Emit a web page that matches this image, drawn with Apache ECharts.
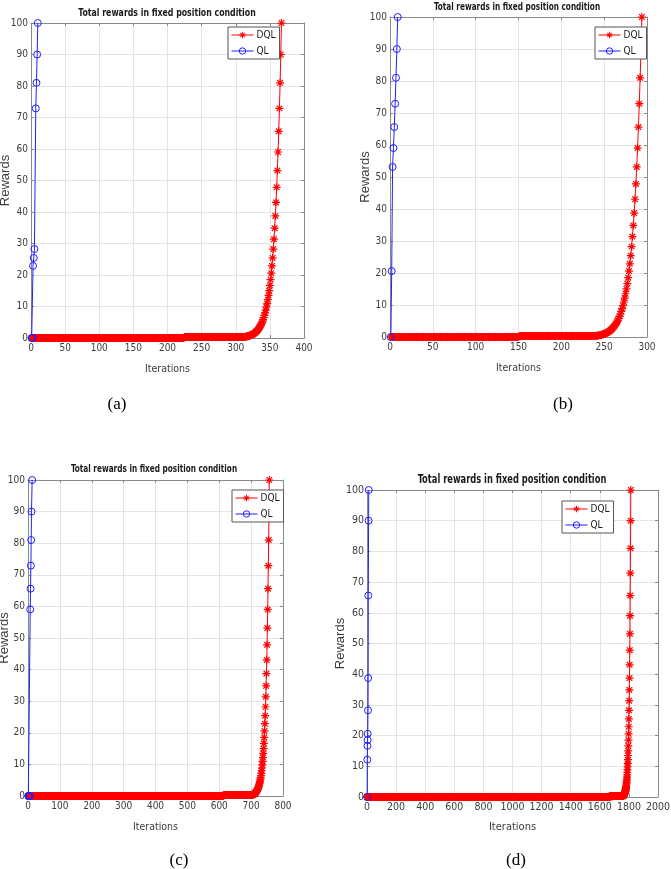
<!DOCTYPE html>
<html>
<head>
<meta charset="utf-8">
<script src="https://cdn.jsdelivr.net/npm/echarts@6/dist/echarts.min.js"></script>
<style>
  html, body { margin: 0; padding: 0; background: #fff; }
  #main { width: 671px; height: 869px; }
</style>
</head>
<body>
<div id="main"></div>
<script>
// y ticks shared by the four plots
const yTicks = [0, 10, 20, 30, 40, 50, 60, 70, 80, 90, 100]

// last part of the DQL curve (same shape in all four)
const dqlRise = [0.31, 0.34, 0.38, 0.42, 0.46, 0.52, 0.57, 0.64, 0.71, 0.79,
  0.87, 0.97, 1.08, 1.2, 1.33, 1.48, 1.64, 1.82, 2.03, 2.25,
  2.5, 2.78, 3.09, 3.43, 3.82, 4.24, 4.71, 5.23, 5.81, 6.46,
  7.18, 7.98, 8.86, 9.85, 10.94, 12.16, 13.51, 15.01, 16.68, 18.53,
  20.59, 22.88, 25.42, 28.24, 31.38, 34.87, 38.74, 43.05, 47.83, 53.14,
  59.05, 65.61, 72.9, 81, 90, 100]

// (a)
const xTicksA = [0, 50, 100, 150, 200, 250, 300, 350, 400]
const dqlEndA = 367
const dqlFlatA = [[1, 224, 0], [225, 311, 0.3]] // from, to, value
const qlItersA = [1, 2, 3, 4, 5, 7, 8, 9, 10]
const qlValsA = [0, 0, 22.88, 25.42, 28.24, 72.9, 81, 90, 100]

// (b)
const xTicksB = [0, 50, 100, 150, 200, 250, 300]
const dqlEndB = 294
const dqlFlatB = [[1, 150, 0], [151, 238, 0.3]]
const qlItersB = [1, 2, 3, 4, 5, 6, 7, 8, 9]
const qlValsB = [0, 20.59, 53.14, 59.05, 65.61, 72.9, 81, 90, 100]

// (c)
const xTicksC = [0, 100, 200, 300, 400, 500, 600, 700, 800]
const dqlEndC = 757
const dqlFlatC = [[1, 612, 0], [613, 701, 0.3]]
const qlItersC = [1, 2, 3, 4, 5, 7, 8, 9, 10, 11, 13]
const qlValsC = [0, 0, 0, 0, 0, 59.05, 65.61, 72.9, 81, 90, 100]

// (d)
const xTicksD = [0, 200, 400, 600, 800, 1000, 1200, 1400, 1600, 1800, 2000]
const dqlEndD = 1813
const dqlFlatD = [[1, 1670, 0], [1671, 1757, 0.3]]
const qlItersD = [1, 2, 3, 4, 5, 7, 8, 9, 11, 12]
const qlValsD = [0, 12.16, 16.68, 18.53, 20.59, 28.24, 38.74, 65.61, 90, 100]

const titleText = 'Total rewards in fixed position condition'
const narrow = "'DejaVu Sans Condensed', 'Liberation Sans', sans-serif"
const axisGray = '#8a8a8a'
const textGray = '#3c3c3c'
// asterisk marker (matlab '*')
const star = 'path://M8.5,0L11.5,0L11.5,20L8.5,20Z M0,8.5L20,8.5L20,11.5L0,11.5Z ' +
  'M4,1.9L18.1,16L16,18.1L1.9,4Z M16,1.9L18.1,4L4,18.1L1.9,16Z'

const panels = [
  { grid: { left: 31, top: 23, width: 273, height: 315 }, xTicks: xTicksA, end: dqlEndA, flat: dqlFlatA,
    qlIters: qlItersA, qlVals: qlValsA, titleX: 167, titleY: 13, titleSize: 11, titleScale: 0.79,
    legend: { left: 228, top: 27 }, caption: '(a)', capX: 117, capY: 396, font: 10, yGap: 19.5, xGap: 26 },
  { grid: { left: 390, top: 17, width: 257, height: 320 }, xTicks: xTicksB, end: dqlEndB, flat: dqlFlatB,
    qlIters: qlItersB, qlVals: qlValsB, titleX: 517, titleY: 7, titleSize: 11, titleScale: 0.74,
    legend: { left: 595, top: 27 }, caption: '(b)', capX: 563, capY: 396, font: 10, yGap: 18.5, xGap: 26 },
  { grid: { left: 28, top: 480, width: 255, height: 316 }, xTicks: xTicksC, end: dqlEndC, flat: dqlFlatC,
    qlIters: qlItersC, qlVals: qlValsC, titleX: 154, titleY: 469, titleSize: 11, titleScale: 0.74,
    legend: { left: 232, top: 490 }, caption: '(c)', capX: 179, capY: 852, font: 10, yGap: 17, xGap: 26 },
  { grid: { left: 367, top: 490, width: 291, height: 307 }, xTicks: xTicksD, end: dqlEndD, flat: dqlFlatD,
    qlIters: qlItersD, qlVals: qlValsD, titleX: 512, titleY: 480, titleSize: 12, titleScale: 0.77,
    legend: { left: 562, top: 501 }, caption: '(d)', capX: 516, capY: 852, font: 10.5, yGap: 20.5, xGap: 25 }
]

let option = { animation: false, backgroundColor: '#fff', title: [], legend: [], grid: [], xAxis: [], yAxis: [], series: [], graphic: [] }

panels.forEach((p, i) => {
  const xMin = p.xTicks[0]
  const xMax = p.xTicks[p.xTicks.length - 1]
  const xStep = p.xTicks[1] - p.xTicks[0]
  const g = p.grid

  // DQL points: flat runs then the rising tail
  let dql = []
  p.flat.forEach(r => {
    for (let k = r[0]; k <= r[1]; k++) dql.push([k, r[2]])
  })
  const start = p.end - dqlRise.length + 1
  dqlRise.forEach((v, k) => dql.push([start + k, v]))
  const ql = p.qlIters.map((it, k) => [it, p.qlVals[k]])

  option.grid.push(Object.assign({ outerBoundsMode: 'none', containLabel: false }, g))
  // plot title, squeezed a bit like the original
  option.graphic.push({
    type: 'text', x: p.titleX, y: p.titleY, scaleX: p.titleScale, z: 10,
    style: {
      text: titleText, align: 'center', verticalAlign: 'middle', fill: '#1a1a1a',
      font: 'bold ' + p.titleSize + "px 'DejaVu Sans Condensed', 'Liberation Sans', sans-serif"
    }
  })
  option.title.push({
    text: p.caption, left: p.capX, top: p.capY, textAlign: 'center', padding: 0,
    textStyle: { fontFamily: "'Liberation Serif', serif", fontSize: 17, fontWeight: 'normal', color: '#000' }
  })
  option.legend.push({
    orient: 'vertical', left: p.legend.left, top: p.legend.top, data: ['DQL', 'QL'],
    backgroundColor: '#fff', borderColor: '#555', borderWidth: 1, borderRadius: 0,
    padding: [3, 4, 3, 3], itemWidth: 22, itemHeight: 8, itemGap: 6,
    lineStyle: { width: 1 }, itemStyle: { borderWidth: 1 },
    textStyle: { fontFamily: narrow, fontSize: 10, color: '#1a1a1a', padding: [0, 0, 0, -2] },
    selectedMode: false, z: 10
  })
  const axisCommon = {
    gridIndex: i,
    nameMoveOverlap: false,
    axisLine: { show: true, onZero: false, lineStyle: { color: axisGray, width: 1 } },
    axisTick: { show: true, inside: true, length: 3, lineStyle: { color: axisGray } }
  }
  option.xAxis.push(Object.assign({}, axisCommon, {
    type: 'value', min: xMin, max: xMax, interval: xStep,
    name: 'Iterations', nameLocation: 'middle', nameGap: p.xGap,
    nameTextStyle: { fontFamily: narrow, fontSize: p.font + 0.5, color: textGray },
    axisLabel: { fontFamily: narrow, fontSize: p.font, color: textGray, margin: 5, formatter: v => String(v) },
    splitLine: { show: true, lineStyle: { color: '#e4e4e4', width: 1 } }
  }))
  option.xAxis.push(Object.assign({}, axisCommon, {
    type: 'value', position: 'top', min: xMin, max: xMax, interval: xStep,
    axisLabel: { show: false }, splitLine: { show: false }
  }))
  option.yAxis.push(Object.assign({}, axisCommon, {
    type: 'value', min: yTicks[0], max: yTicks[yTicks.length - 1], interval: yTicks[1] - yTicks[0],
    name: 'Rewards', nameLocation: 'middle', nameGap: p.yGap,
    nameTextStyle: { fontFamily: "'Liberation Sans', sans-serif", fontSize: 13, color: textGray },
    axisLabel: { fontFamily: narrow, fontSize: p.font, color: textGray, margin: 3 },
    splitLine: { show: true, lineStyle: { color: '#e4e4e4', width: 1 } }
  }))
  option.yAxis.push(Object.assign({}, axisCommon, {
    type: 'value', position: 'right', min: yTicks[0], max: yTicks[yTicks.length - 1], interval: yTicks[1] - yTicks[0],
    axisLabel: { show: false }, splitLine: { show: false }
  }))

  option.series.push({
    name: 'DQL', type: 'line', xAxisIndex: 2 * i, yAxisIndex: 2 * i, data: dql,
    symbol: star, symbolSize: 8,
    itemStyle: { color: '#ff0000' }, lineStyle: { color: '#ff0000', width: 1 }
  })
  option.series.push({
    name: 'QL', type: 'line', xAxisIndex: 2 * i, yAxisIndex: 2 * i, data: ql,
    symbol: 'circle', symbolSize: 7,
    itemStyle: { color: 'rgba(0,0,0,0)', borderColor: '#2020ff', borderWidth: 1 },
    lineStyle: { color: '#2020ff', width: 1 }
  })
})

let myChart = echarts.init(document.getElementById('main'))
myChart.setOption(option)
</script>
</body>
</html>
